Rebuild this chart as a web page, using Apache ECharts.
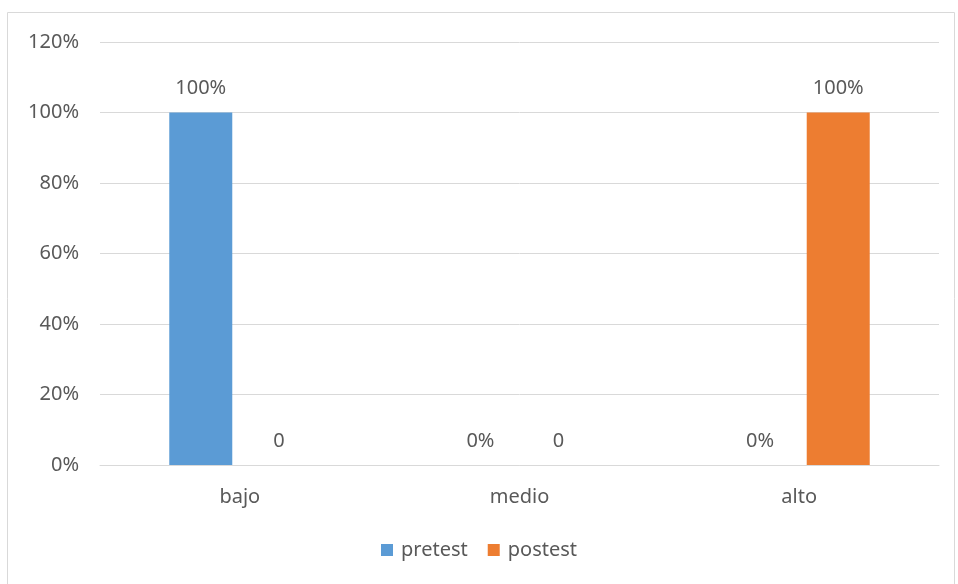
<!DOCTYPE html>
<html>
<head>
<meta charset="utf-8">
<script src="https://cdn.jsdelivr.net/npm/echarts@6/dist/echarts.min.js"></script>
<style>
  html, body { margin: 0; padding: 0; background: #fff; }
  #chart { width: 958px; height: 584px; }
</style>
</head>
<body>
<div id="chart"></div>
<script>
const categories = ['bajo', 'medio', 'alto']
const pretest = [100, 0, 0]
const postest = [0, 0, 100]
// etiquetas tal como aparecen en el gráfico original
const pretestLabels = ['100%', '0%', '0%']
const postestLabels = ['0', '0', '100%']

const textColor = '#595959'
const font = 'Noto Sans'
const fontSize = 20

const chart = echarts.init(document.getElementById('chart'))

const labelFor = texts => ({
  show: true,
  position: 'top',
  distance: 14,
  color: textColor,
  fontFamily: font,
  fontSize,
  formatter: p => texts[p.dataIndex]
})

chart.setOption({
  animation: false,
  graphic: [{
    type: 'rect',
    shape: { x: 7.5, y: 12.5, width: 947, height: 600 },
    style: { fill: 'none', stroke: '#d9d9d9', lineWidth: 1 },
    silent: true
  }],
  grid: { left: 100, right: 19, top: 42, bottom: 119 },
  legend: {
    bottom: 19,
    left: 'center',
    itemWidth: 12,
    itemHeight: 12,
    itemGap: 20,
    icon: 'rect',
    textStyle: { color: textColor, fontFamily: font, fontSize, padding: [0, 0, 0, 3] },
    data: ['pretest', 'postest']
  },
  xAxis: {
    type: 'category',
    data: categories,
    axisLine: { lineStyle: { color: '#d9d9d9', width: 1 } },
    axisTick: { show: false },
    axisLabel: { color: textColor, fontFamily: font, fontSize, margin: 22 }
  },
  yAxis: {
    type: 'value',
    min: 0,
    max: 120,
    interval: 20,
    axisLine: { show: false },
    axisTick: { show: false },
    splitLine: { lineStyle: { color: '#d9d9d9', width: 1 } },
    axisLabel: {
      color: textColor, fontFamily: font, fontSize, margin: 21,
      formatter: v => v + '%'
    }
  },
  series: [
    {
      name: 'pretest',
      type: 'bar',
      data: pretest,
      barWidth: 63,
      barGap: '24%',
      itemStyle: { color: '#5b9bd5' },
      label: labelFor(pretestLabels)
    },
    {
      name: 'postest',
      type: 'bar',
      data: postest,
      barWidth: 63,
      itemStyle: { color: '#ed7d31' },
      label: labelFor(postestLabels)
    }
  ]
})
</script>
</body>
</html>
